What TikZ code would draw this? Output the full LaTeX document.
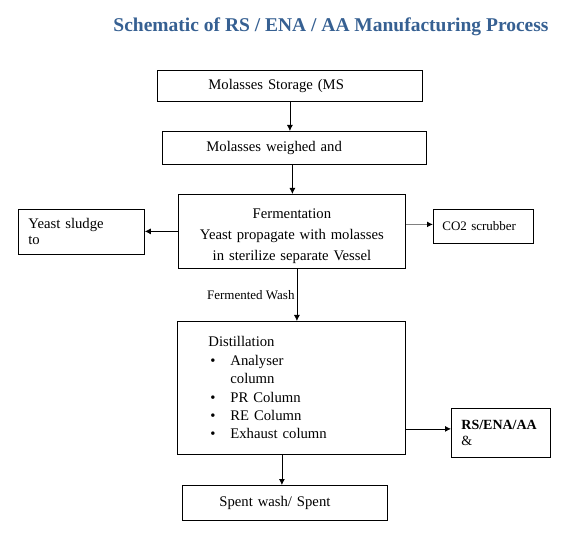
\documentclass[tikz,border=0pt]{standalone}
\usepackage{fontspec}
\setmainfont{Liberation Serif}
\usepackage{tikz}
\usetikzlibrary{arrows.meta, positioning, calc}
\definecolor{titleblue}{RGB}{54, 96, 146}
\definecolor{linegray}{RGB}{128, 128, 128}
\tikzset{
    stage/.style={rectangle, draw=black, line width=0.8pt, anchor=north west, inner ysep=2pt, align=left, font=\fontsize{14.7}{18}\selectfont},
    flow/.style={line width=0.8pt, -{Latex[length=6pt, width=6pt, color=black]}},
    note/.style={font=\fontsize{13}{15}\selectfont, inner sep=2pt}
}
\begin{document}
\begin{tikzpicture}[x=1pt, y=-1pt]
    \useasboundingbox (0,0) rectangle (573,537);

    % Title
    \node[font=\fontsize{19.5}{23}\selectfont\bfseries, text=titleblue] (title) at (331, 27) {Schematic of RS / ENA / AA Manufacturing Process};

    % Main chain
    \node[stage, minimum width=265pt, minimum height=31pt, inner xsep=51pt, text width=163pt] (storage) at (157, 70) {Molasses Storage (MS};

    \node[stage, minimum width=264pt, minimum height=33pt, inner xsep=44pt, text width=176pt] (weigh) at (162, 131) {Molasses weighed and};

    \node[stage, minimum width=227pt, minimum height=74pt, inner xsep=4pt, text width=219pt, align=center, font=\fontsize{14.7}{21}\selectfont] (ferm) at (178, 194) {
        \rule{0pt}{19pt}Fermentation\\
        Yeast propagate with molasses\\
        in sterilize separate Vessel
    };

    \node[stage, minimum width=126pt, minimum height=45pt, inner xsep=10pt, text width=106pt, font=\fontsize{14.7}{16}\selectfont] (sludge) at (18, 209) {Yeast sludge\\to};

    \node[stage, minimum width=100pt, minimum height=34pt, inner xsep=9pt, text width=82pt, font=\fontsize{13}{16}\selectfont] (scrubber) at (433, 209) {CO2 scrubber};

    \node[stage, minimum width=228pt, minimum height=133pt, inner xsep=31pt, text width=166pt, font=\fontsize{14.7}{18.4}\selectfont] (distil) at (177, 321) {
        Distillation\\
        \hspace*{2pt}\makebox[20pt][l]{\textbullet}Analyser\\
        \hspace*{22pt}column\\
        \hspace*{2pt}\makebox[20pt][l]{\textbullet}PR Column\\
        \hspace*{2pt}\makebox[20pt][l]{\textbullet}RE Column\\
        \hspace*{2pt}\makebox[20pt][l]{\textbullet}Exhaust column
    };

    \node[stage, minimum width=99pt, minimum height=49pt, inner xsep=10pt, text width=79pt, font=\fontsize{14}{16}\selectfont] (product) at (451, 408) {\textbf{RS/ENA/AA}\\\&};

    \node[stage, minimum width=205pt, minimum height=35pt, inner xsep=37pt, text width=131pt] (spent) at (182, 485) {Spent wash/ Spent};

    % Connectors
    \draw[flow] (storage.south) -- (storage.south |- weigh.north);
    \draw[flow] ([xshift=-2pt]weigh.south) -- ([xshift=-2pt]weigh.south |- ferm.north);
    \draw[flow] (ferm.west) -- (ferm.west -| sludge.east);
    \draw[flow, draw=linegray, line width=1.2pt] ([yshift=2pt]ferm.east |- scrubber.west) -- ([yshift=2pt]scrubber.west);
    \draw[flow] ([xshift=5pt]ferm.south) -- ([xshift=5pt]ferm.south |- distil.north)
        node[note, midway, left] {Fermented Wash};
    \draw[flow] ([yshift=4pt]distil.east |- product.west) -- ([yshift=4pt]product.west);
    \draw[flow] ([xshift=-3pt]spent.north |- distil.south) -- ([xshift=-3pt]spent.north);
\end{tikzpicture}
\end{document}
